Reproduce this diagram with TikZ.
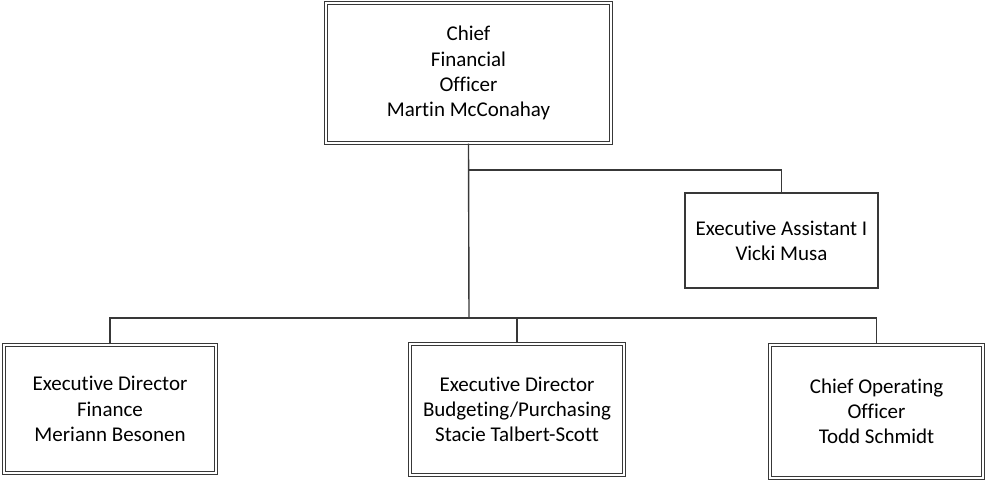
\documentclass[tikz,border=0pt]{standalone}
\usepackage{fontspec}
\setmainfont{Carlito}[Ligatures=NoCommon]
\begin{document}
\begin{tikzpicture}[x=1pt,y=-1pt,
  conn/.style={draw=black!78,line width=1.4pt},
  txt/.style={align=center,inner sep=0pt,font=\fontsize{21}{25.2}\selectfont},
  dbox/.style={txt,draw=black!78,line width=1.3pt,double=white,double distance=2.3pt},
  sbox/.style={txt,draw=black!78,line width=1.4pt}]
\useasboundingbox (0,0) rectangle (986,480);
\node[dbox,minimum width=285pt,minimum height=140pt] (cfo) at (468.5,73)
  {Chief\\Financial\\Officer\\Martin McConahay};
\node[sbox,minimum width=193pt,minimum height=95pt] (ea) at (781.5,240.5)
  {Executive Assistant I\\Vicki Musa};
\node[dbox,minimum width=212pt,minimum height=128pt] (fin) at (110,409)
  {Executive Director\\Finance\\Meriann Besonen};
\node[dbox,minimum width=214pt,minimum height=131pt] (bud) at (517,409.5)
  {Executive Director\\Budgeting/Purchasing\\Stacie Talbert-Scott};
\node[dbox,minimum width=213pt,minimum height=133pt] (coo) at (876.5,411.5)
  {Chief Operating\\Officer\\Todd Schmidt};
\coordinate (bus) at (469,318);
\coordinate (ja) at (469,170);
\draw[conn] (cfo.south) -- (bus);
\draw[conn] (ja) -| (ea.north);
\draw[conn] (fin.north) -- (fin.north |- bus) -- (coo.north |- bus) -- (coo.north);
\draw[conn] (bud.north) -- (bud.north |- bus);
\end{tikzpicture}
\end{document}
